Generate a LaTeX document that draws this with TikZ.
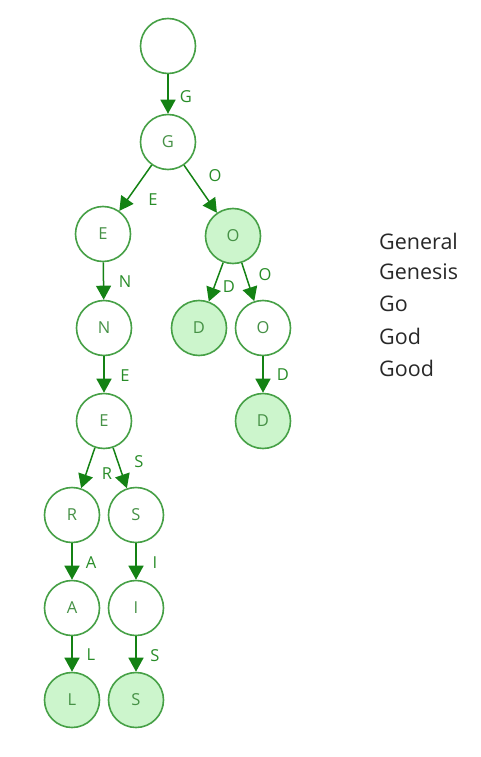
\documentclass[tikz,border=0pt]{standalone}
\usepackage{fontspec}
\setmainfont{Open Sans}
\usetikzlibrary{arrows.meta}
\definecolor{gstroke}{RGB}{70,160,70}
\definecolor{garrow}{RGB}{20,130,20}
\definecolor{gfill}{RGB}{204,245,204}
\definecolor{gtext}{RGB}{70,145,70}
\definecolor{ltext}{RGB}{40,140,40}
\definecolor{wtext}{RGB}{40,40,40}
\tikzset{
  trie/.style={circle,draw=gstroke,line width=1.6pt,minimum size=55pt,inner sep=0pt,fill=white,text=gtext,font=\fontsize{16.5}{18}\selectfont},
  leaf/.style={trie,fill=gfill},
  edge/.style={draw=garrow,line width=1.5pt,-{Triangle[length=14pt,width=15pt]}},
  lbl/.style={text=ltext,font=\fontsize{16.5}{18}\selectfont,inner sep=0pt},
  word/.style={text=wtext,font=\fontsize{21.5}{24}\selectfont,anchor=west,inner sep=0pt}
}
\begin{document}
\begin{tikzpicture}[x=1pt,y=-1pt]
\useasboundingbox (0,0) rectangle (481,757);
\node[trie] (r) at (168,46) {};
\node[trie] (g) at (168,142) {G};
\node[trie] (e1) at (103,234) {E};
\node[leaf] (o1) at (233,236) {O};
\node[trie] (n) at (104,328) {N};
\node[leaf] (d1) at (199,328) {D};
\node[trie] (o2) at (263,328) {O};
\node[leaf] (d2) at (263,421) {D};
\node[trie] (e2) at (104,421) {E};
\node[trie] (rr) at (72,515) {R};
\node[trie] (s1) at (136,515) {S};
\node[trie] (a) at (72,608) {A};
\node[trie] (i) at (136,608) {I};
\node[leaf] (l) at (72,700) {L};
\node[leaf] (s2) at (136,700) {S};

\draw[edge] (r) -- (g);
\draw[edge] (g) -- (e1);
\draw[edge] (g) -- (o1);
\draw[edge] (e1) -- (n);
\draw[edge] (o1) -- (d1);
\draw[edge] (o1) -- (o2);
\draw[edge] (o2) -- (d2);
\draw[edge] (n) -- (e2);
\draw[edge] (e2) -- (rr);
\draw[edge] (e2) -- (s1);
\draw[edge] (rr) -- (a);
\draw[edge] (s1) -- (i);
\draw[edge] (a) -- (l);
\draw[edge] (i) -- (s2);

\node[lbl] (lg) at (186,97) {G};
\node[lbl] (le1) at (153,200) {E};
\node[lbl] (lo1) at (215,176) {O};
\node[lbl] (ln) at (125,282) {N};
\node[lbl] (le2) at (125,376) {E};
\node[lbl] (lr) at (107,474) {R};
\node[lbl] (ls1) at (139,462) {S};
\node[lbl] (ld1) at (229,287) {D};
\node[lbl] (lo2) at (265,275) {O};
\node[lbl] (ld2) at (283,375) {D};
\node[lbl] (la) at (91,563) {A};
\node[lbl] (li) at (155,563) {I};
\node[lbl] (ll) at (91,655) {L};
\node[lbl] (ls2) at (155,656) {S};

\node[word] (w1) at (379,241) {General};
\node[word] (w2) at (379,272) {Genesis};
\node[word] (w3) at (379,304) {Go};
\node[word] (w4) at (379,336) {God};
\node[word] (w5) at (379,368) {Good};
\end{tikzpicture}
\end{document}
